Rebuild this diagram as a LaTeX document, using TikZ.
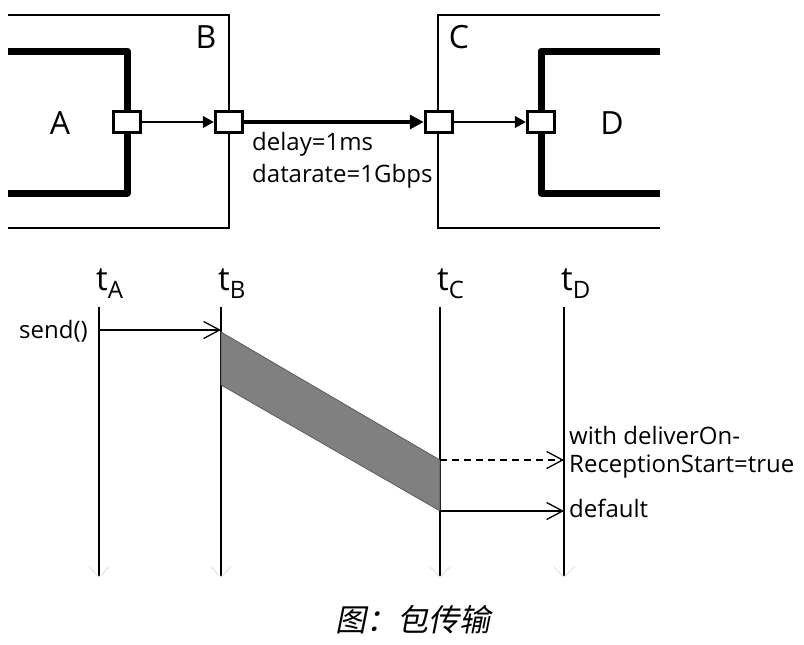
\documentclass[tikz,border=0pt]{standalone}
\usepackage{fontspec}
\setmainfont{Open Sans}
\newfontfamily\cjkit[FakeSlant=0.2]{Noto Sans CJK SC}
\usetikzlibrary{arrows.meta}
\tikzset{
  port/.style={draw, fill=white, line width=3.5pt, minimum width=27pt, minimum height=21pt, inner sep=0pt},
  modline/.style={line width=7pt, line join=round},
  boxline/.style={line width=1.5pt},
  tline/.style={line width=1.3pt},
  msg/.style={line width=1.3pt, -{Straight Barb[length=16pt,width=17pt,line width=1.3pt]}},
  biglabel/.style={font=\fontsize{32}{34}\selectfont},
  small/.style={font=\fontsize{24}{26}\selectfont, inner sep=0pt},
  tlab/.style={anchor=base west, font=\fontsize{33}{34}\selectfont, inner sep=0pt},
}
\newcommand{\tlabel}[1]{t\raisebox{-8pt}{\fontsize{24}{24}\selectfont #1}}
\begin{document}
\begin{tikzpicture}[x=1pt,y=-1pt]
  \useasboundingbox (0,0) rectangle (804,645);
  % compound modules B and C
  \draw[boxline] (8,15) -- (229,15) -- (229,228) -- (8,228);
  \draw[boxline] (660,15) -- (438,15) -- (438,228) -- (660,228);
  % simple modules A and D
  \draw[modline] (8,51) -- (127,51) -- (127,193) -- (8,193);
  \draw[modline] (660,51) -- (541,51) -- (541,193) -- (660,193);
  \node[biglabel] (labelA) at (60,123) {A};
  \node[biglabel] (labelB) at (206,37) {B};
  \node[biglabel] (labelC) at (459,37) {C};
  \node[biglabel] (labelD) at (612,123) {D};
  % gates
  \node[port] (portA) at (127,122) {};
  \node[port] (portB) at (229,122) {};
  \node[port] (portC) at (439,122) {};
  \node[port] (portD) at (541,122) {};
  \draw[line width=1.3pt, -{Triangle[length=11pt,width=12pt]}] (portA) -- (portB);
  \draw[line width=4.5pt, -{Triangle[length=14pt,width=14pt]}] (portB) -- (portC);
  \draw[line width=1.3pt, -{Triangle[length=11pt,width=12pt]}] (portC) -- (portD);
  \node[small, anchor=base west] (delay) at (252,150) {delay=1ms};
  \node[small, anchor=base west] (rate) at (252,182) {datarate=1Gbps};
  % timelines
  \node[tlab] (tA) at (96,290) {\tlabel{A}};
  \node[tlab] (tB) at (218,290) {\tlabel{B}};
  \node[tlab] (tC) at (437,290) {\tlabel{C}};
  \node[tlab] (tD) at (561,290) {\tlabel{D}};
  \foreach \n/\x in {A/99,B/221,C/440,D/564} {
    \coordinate (\n0) at (\x,307);
    \coordinate (\n1) at (\x,577);
    \draw[tline] (\n0) -- (\n1);
    \draw[gray!25, line width=0.8pt] (\x-10,567) -- (\n1) -- (\x+10,567);
  }
  % packet
  \coordinate (sendA) at (99,330);
  \coordinate (sendB) at (221,330);
  \coordinate (startB) at (221,332);
  \coordinate (endB) at (221,385);
  \coordinate (startC) at (440,460);
  \coordinate (endC) at (440,511);
  \coordinate (startD) at (564,460);
  \coordinate (endD) at (564,511);
  \filldraw[fill=gray, draw=black!70, line width=0.6pt] (startB) -- (startC) -- (endC) -- (endB) -- cycle;
  \draw[msg] (sendA) -- (sendB);
  \draw[msg, dash pattern=on 7pt off 5pt] (startC) -- (startD);
  \draw[msg] (endC) -- (endD);
  \node[small, anchor=base east] (send) at (88,338) {send()};
  \node[small, anchor=base west] (with1) at (569,444) {with deliverOn-};
  \node[small, anchor=base west] (with2) at (569,472) {ReceptionStart=true};
  \node[small, anchor=base west] (default) at (569,517) {default};
  % caption
  \node[font=\fontsize{31}{32}\selectfont\cjkit] (caption) at (413,620) {图：包传输};
\end{tikzpicture}
\end{document}
